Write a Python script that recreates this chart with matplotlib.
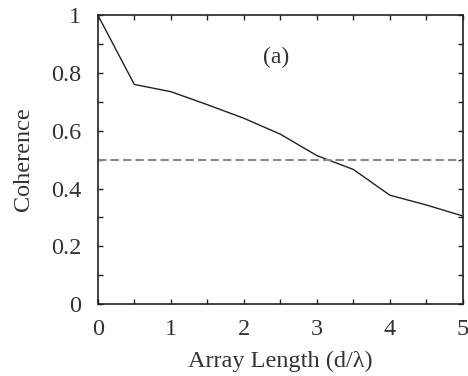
import matplotlib
matplotlib.use("Agg")
import matplotlib.pyplot as plt
from matplotlib.ticker import MultipleLocator

plt.rcParams['font.family'] = ['Liberation Serif', 'DejaVu Serif']

array_length = [0, 0.5, 1.0, 1.5, 2.0, 2.5, 3.0, 3.5, 4.0, 4.5, 5.0]
coherence = [1.0, 0.76, 0.735, 0.69, 0.643, 0.588, 0.514, 0.466, 0.377, 0.343, 0.305]
threshold = 0.5
y_ticks = [0, 0.2, 0.4, 0.6, 0.8, 1.0]
y_tick_labels = ['0', '0.2', '0.4', '0.6', '0.8', '1']

txt = '#333333'
fig = plt.figure(figsize=(4.68, 3.76), dpi=100)
ax = fig.add_axes([0.209, 0.191, 0.78, 0.769])
ax.plot(array_length, coherence, color='#222222', lw=1.0)
ax.axhline(threshold, color='#8a8a8a', lw=1.5, ls=(0, (4, 2)))
ax.set_xlim(0, 5)
ax.set_ylim(0, 1)
ax.xaxis.set_major_locator(MultipleLocator(1))
ax.xaxis.set_minor_locator(MultipleLocator(0.5))
ax.set_yticks(y_ticks)
ax.set_yticklabels(y_tick_labels)
ax.yaxis.set_minor_locator(MultipleLocator(0.1))
ax.tick_params(which='both', direction='in', top=True, right=True, labelsize=17.5,
               colors='#222222', labelcolor=txt, length=3.5, width=1)
ax.tick_params(axis='x', pad=11)
ax.tick_params(axis='y', pad=12)
for s in ax.spines.values():
    s.set_linewidth(1.2)
    s.set_color('#222222')
ax.set_xlabel('Array Length (d/λ)', fontsize=17.5, color=txt)
ax.set_ylabel('Coherence', fontsize=17.5, color=txt)
ax.xaxis.set_label_coords(0.5, -0.162)
ax.yaxis.set_label_coords(-0.175, 0.5)
ax.text(2.44, 0.855, '(a)', fontsize=17, ha='center', va='center', color=txt)
fig.savefig('out.png', dpi=100)
